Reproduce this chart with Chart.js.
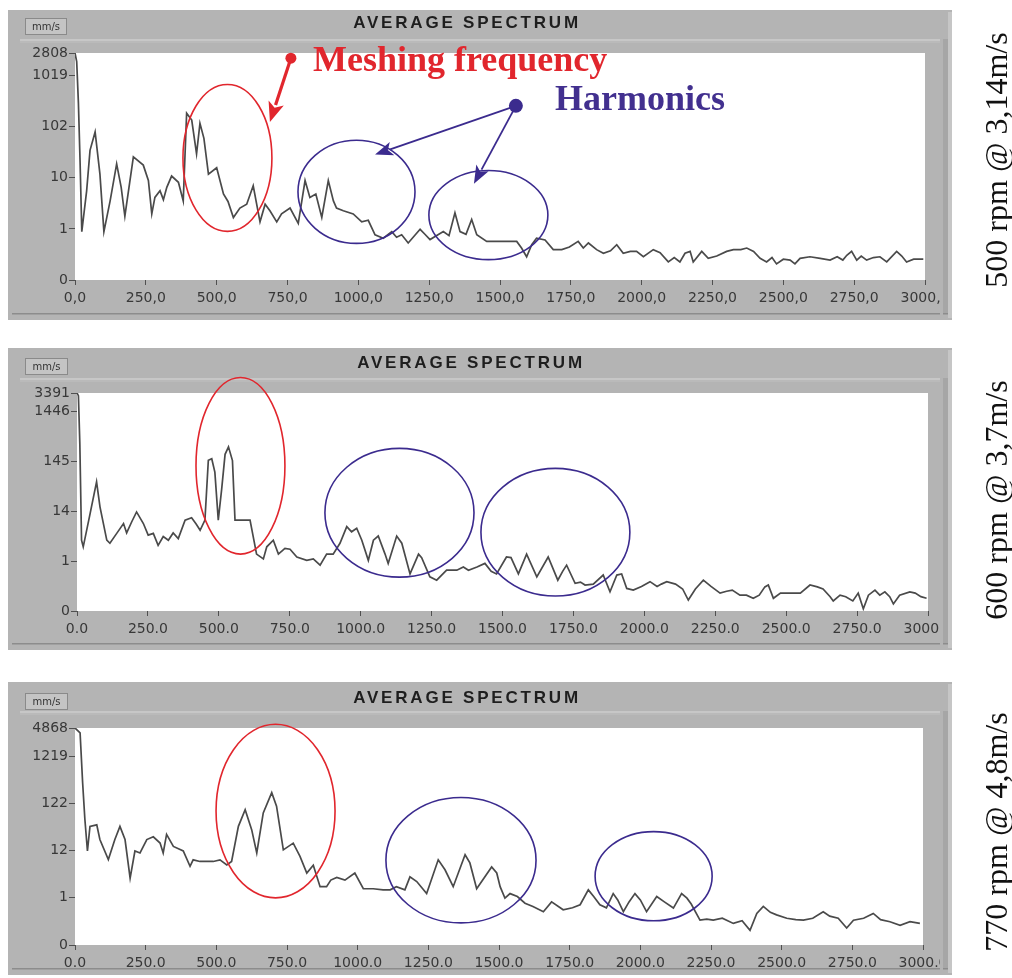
<!DOCTYPE html>
<html><head><meta charset="utf-8">
<script src="https://cdn.jsdelivr.net/npm/chart.js@4.4.1/dist/chart.umd.min.js"></script>
<style>
html,body{margin:0;padding:0;background:#fff;width:1012px;height:978px;overflow:hidden}
.wrap{position:absolute;left:0;width:1012px}
canvas{display:block}
</style></head><body>
<div class="wrap" style="top:0;height:330px"><canvas id="c1" width="1012" height="330"></canvas></div>
<div class="wrap" style="top:330px;height:330px"><canvas id="c2" width="1012" height="330"></canvas></div>
<div class="wrap" style="top:660px;height:318px"><canvas id="c3" width="1012" height="318"></canvas></div>
<script>
// ---------- DATA (frequency in Hz, amplitude in mm/s) ----------
const freq500 = [0,6,12,18,24,41,53,71,88,102,124,147,163,176,206,241,259,271,282,300,312,324,341,365,382,394,412,429,441,455,471,500,524,540,559,582,606,629,653,671,688,712,729,759,788,812,829,850,871,894,912,923,947,982,1012,1035,1059,1088,1118,1135,1153,1176,1218,1235,1253,1300,1320,1341,1359,1380,1400,1418,1453,1500,1559,1576,1594,1612,1629,1659,1688,1718,1745,1776,1794,1812,1841,1865,1890,1912,1935,1960,1982,2006,2041,2065,2094,2115,2135,2153,2171,2182,2212,2235,2265,2300,2324,2350,2371,2395,2418,2441,2460,2476,2500,2524,2541,2559,2594,2630,2665,2690,2710,2724,2741,2759,2775,2794,2818,2841,2865,2900,2918,2935,2960,2994];
const amp500 = [2808,1900,300,20,0.9,5.6,35,80,12,0.9,3.6,19,6.6,1.8,26,18,9,2,4.2,5.7,3.8,6.6,11,8.3,3.6,186,137,30,118,60,12,16,4.9,3.5,1.7,2.6,3.1,7.1,1.4,3.1,2.3,1.4,2.0,2.6,1.3,9,4.2,4.9,1.7,9,3.6,2.6,2.3,2.0,1.4,1.5,0.78,0.67,0.9,0.7,0.78,0.54,1.0,0.8,0.63,0.9,0.75,2.1,0.9,0.8,1.55,0.78,0.58,0.58,0.58,0.43,0.29,0.5,0.67,0.62,0.4,0.4,0.45,0.58,0.43,0.54,0.4,0.34,0.38,0.5,0.34,0.37,0.37,0.29,0.4,0.35,0.23,0.28,0.23,0.34,0.37,0.23,0.37,0.27,0.3,0.37,0.4,0.4,0.43,0.37,0.27,0.23,0.28,0.21,0.26,0.25,0.21,0.27,0.29,0.27,0.25,0.29,0.25,0.31,0.37,0.25,0.3,0.25,0.28,0.29,0.23,0.37,0.3,0.23,0.26,0.26];
const yTicks500 = [0.1019,1.019,10.19,101.9,1019,2808];
const yLabels500 = ['0','1','10','102','1019','2808'];

const freq600 = [0,5,10,16,22,46,69,81,105,116,140,164,175,193,210,234,251,269,286,304,322,339,357,381,404,420,434,451,463,475,486,498,510,522,534,548,557,586,610,633,657,669,692,710,733,751,775,810,833,857,880,903,927,951,968,986,1004,1027,1045,1062,1086,1097,1127,1145,1174,1204,1215,1244,1268,1303,1339,1362,1380,1410,1438,1460,1479,1514,1530,1556,1585,1621,1661,1695,1712,1726,1756,1775,1791,1820,1855,1879,1903,1920,1938,1961,1990,2020,2045,2060,2079,2110,2135,2155,2180,2208,2235,2267,2290,2310,2337,2360,2384,2405,2425,2437,2455,2480,2513,2550,2584,2610,2630,2655,2666,2690,2710,2735,2754,2772,2790,2813,2830,2848,2865,2878,2900,2936,2955,2975,2995];
const amp600 = [3391,3000,324,3.8,2.8,12.8,56,17.7,3.8,3.3,5.2,8.2,5.3,8.9,14,8.2,4.8,5.2,3.0,4.5,3.8,5.3,4.1,9.6,10.7,8,6.0,9.6,152,163,88,9.6,40,200,282,150,9.6,9.6,9.6,2.0,1.6,2.8,3.8,2.0,2.6,2.5,1.75,1.5,1.6,1.2,2.0,2.0,3.3,7.1,5.6,6.6,3.8,1.5,3.8,4.6,2.0,1.3,4.6,3.3,0.8,2.0,1.7,0.7,0.6,0.95,0.95,1.1,0.95,1.1,1.3,0.9,0.8,1.75,1.7,0.8,2.0,0.7,1.75,0.6,0.9,1.2,0.52,0.55,0.48,0.5,0.76,0.35,0.76,0.8,0.41,0.38,0.45,0.56,0.45,0.5,0.56,0.5,0.4,0.24,0.4,0.6,0.45,0.33,0.36,0.38,0.3,0.3,0.26,0.3,0.44,0.48,0.26,0.33,0.33,0.33,0.48,0.44,0.4,0.28,0.23,0.3,0.28,0.23,0.33,0.16,0.3,0.38,0.3,0.35,0.28,0.2,0.3,0.35,0.33,0.28,0.26];
const yTicks600 = [0.1446,1.446,14.46,144.6,1446,3391];
const yLabels600 = ['0','1','14','145','1446','3391'];

const freq770 = [0,18,27,35,44,53,77,88,118,141,159,177,195,212,230,254,277,301,312,324,348,383,407,418,442,489,513,537,554,578,602,625,643,666,696,713,737,772,796,820,843,867,890,905,926,955,990,1020,1055,1090,1115,1137,1167,1185,1209,1244,1285,1309,1338,1380,1397,1421,1474,1492,1504,1521,1539,1565,1592,1620,1657,1686,1727,1760,1787,1816,1835,1857,1880,1904,1920,1940,1960,1981,2000,2022,2058,2085,2117,2146,2165,2180,2211,2235,2258,2290,2329,2360,2388,2412,2435,2460,2482,2518,2550,2577,2610,2647,2670,2700,2730,2754,2790,2824,2850,2883,2919,2954,2989];
const amp770 = [4868,3855,335,56,12,40,43,21,7.9,21,40,21,3.2,12,10.9,21,24,17.7,10.9,27,15,12,5.7,7.8,7.2,7.2,7.8,6.1,7.2,40,90,34,10.9,77,207,107,12.7,17.6,9.2,4.1,6.0,2.1,2.1,2.9,3.3,2.9,4.1,1.9,1.9,1.8,1.8,2.1,1.8,3.4,2.7,1.5,7.8,4.8,2.1,10,6.7,1.9,5.5,4.1,2.1,1.2,1.5,1.3,0.94,0.8,0.62,1.0,0.68,0.75,0.87,1.8,1.3,0.87,0.75,1.5,1.1,0.62,1.0,1.5,1.1,0.62,1.3,1.0,0.74,1.5,1.2,0.9,0.41,0.43,0.41,0.45,0.35,0.4,0.25,0.57,0.8,0.6,0.53,0.45,0.42,0.41,0.45,0.62,0.5,0.45,0.28,0.41,0.45,0.57,0.42,0.38,0.32,0.38,0.35];
const yTicks770 = [0.1219,1.219,12.19,121.9,1219,4868];
const yLabels770 = ['0','1','12','122','1219','4868'];

const xTickValues = [0,250,500,750,1000,1250,1500,1750,2000,2250,2500,2750,3000];

// ---------- DECORATION ----------
const RED = '#e1262d', PURPLE = '#3b2b8e';

function makePanel(id, o) {
  const deco = {
    id: 'deco_' + id,
    beforeDraw(chart) {
      const ctx = chart.ctx, ca = chart.chartArea, f = o.frame;
      ctx.save();
      ctx.fillStyle = '#ffffff'; ctx.fillRect(0, 0, chart.width, chart.height);
      ctx.fillStyle = '#b4b4b4'; ctx.fillRect(f.x, f.y, f.w, f.h);
      ctx.fillStyle = '#c7c7c7'; ctx.fillRect(f.x + 12, o.lineY, f.w - 20, 2);
      ctx.fillStyle = '#bababa'; ctx.fillRect(f.x + 12, o.lineY + 2, f.w - 20, 2);
      ctx.fillStyle = '#8c8c8c'; ctx.fillRect(f.x + 4, f.y + f.h - 7, f.w - 8, 1.5);
      ctx.fillStyle = '#ffffff'; ctx.fillRect(ca.left, ca.top, ca.right - ca.left, ca.bottom - ca.top);
      // title
      ctx.fillStyle = '#1e1e1e';
      ctx.font = 'bold 17px "Liberation Sans", Arial, sans-serif';
      try { ctx.letterSpacing = '2.8px'; } catch (e) {}
      ctx.textAlign = 'center'; ctx.textBaseline = 'middle';
      ctx.fillText('AVERAGE SPECTRUM', o.titleX, o.titleY);
      try { ctx.letterSpacing = '0px'; } catch (e) {}
      // unit box
      const b = o.unitBox;
      ctx.fillStyle = '#c4c4c4'; ctx.fillRect(b.x, b.y, b.w, b.h);
      ctx.strokeStyle = '#8a8a8a'; ctx.lineWidth = 1;
      ctx.strokeRect(b.x + 0.5, b.y + 0.5, b.w - 1, b.h - 1);
      ctx.fillStyle = '#333'; ctx.font = '10px "DejaVu Sans", sans-serif';
      ctx.textAlign = 'center'; ctx.textBaseline = 'middle';
      ctx.fillText('mm/s', b.x + b.w / 2, b.y + b.h / 2 + 1);
      ctx.restore();
    },
    afterDraw(chart) {
      const ctx = chart.ctx, f = o.frame;
      const X = v => chart.scales.x.getPixelForValue(v);
      const Y = v => chart.scales.y.getPixelForValue(v);
      ctx.save();
      // right inner strip of the frame
      ctx.fillStyle = '#b4b4b4'; ctx.fillRect(f.x + f.w - 12, f.y + 2, 3, f.h - 4);
      ctx.fillStyle = '#a6a6a6'; ctx.fillRect(f.x + f.w - 9, o.lineY, 5, f.h - (o.lineY - f.y) - 7);
      ctx.fillStyle = '#c6c6c6'; ctx.fillRect(f.x + f.w - 4, f.y + 2, 4, f.h - 4);
      // ellipses
      for (const e of o.ellipses) {
        const x0 = X(e.f[0]), x1 = X(e.f[1]), y0 = Y(e.v[0]), y1 = Y(e.v[1]);
        ctx.beginPath();
        ctx.ellipse((x0 + x1) / 2, (y0 + y1) / 2, Math.abs(x1 - x0) / 2, Math.abs(y1 - y0) / 2, 0, 0, Math.PI * 2);
        ctx.strokeStyle = e.color; ctx.lineWidth = 1.6; ctx.stroke();
      }
      // arrows
      for (const a of (o.arrows || [])) {
        const x0 = X(a.from[0]), y0 = Y(a.from[1]), x1 = X(a.to[0]), y1 = Y(a.to[1]);
        const dx = x1 - x0, dy = y1 - y0, L = Math.hypot(dx, dy), ux = dx / L, uy = dy / L;
        const bx = x1 - ux * a.head, by = y1 - uy * a.head;
        ctx.strokeStyle = a.color; ctx.fillStyle = a.color; ctx.lineWidth = a.width;
        ctx.beginPath(); ctx.moveTo(x0, y0); ctx.lineTo(bx + ux * 2, by + uy * 2); ctx.stroke();
        ctx.beginPath(); ctx.moveTo(x1, y1);
        ctx.lineTo(bx - uy * a.half, by + ux * a.half);
        ctx.lineTo(bx + ux * a.head * 0.25, by + uy * a.head * 0.25);
        ctx.lineTo(bx + uy * a.half, by - ux * a.half);
        ctx.closePath(); ctx.fill();
      }
      for (const d of (o.dots || [])) {
        ctx.fillStyle = d.color; ctx.beginPath();
        ctx.arc(X(d.at[0]), Y(d.at[1]), d.r, 0, Math.PI * 2); ctx.fill();
      }
      for (const t of (o.texts || [])) {
        ctx.fillStyle = t.color; ctx.font = 'bold 36px "Liberation Serif", "Times New Roman", serif';
        ctx.textAlign = 'left'; ctx.textBaseline = 'alphabetic';
        ctx.fillText(t.text, X(t.at[0]), Y(t.at[1]));
      }
      // side label
      ctx.translate(o.side.x, o.side.y); ctx.rotate(-Math.PI / 2);
      ctx.fillStyle = '#111'; ctx.font = '32px "Liberation Serif", "Times New Roman", serif';
      ctx.textAlign = 'center'; ctx.textBaseline = 'alphabetic';
      ctx.fillText(o.side.text, 0, 0);
      ctx.restore();
    }
  };

  return new Chart(document.getElementById(id), {
    type: 'line',
    data: { datasets: [{
      data: o.freq.map((fq, i) => ({ x: fq, y: o.amp[i] })),
      borderColor: '#4a4a4a', borderWidth: 1.7, pointRadius: 0, tension: 0, fill: false
    }]},
    options: {
      responsive: false, animation: false, events: [],
      layout: { padding: o.padding },
      plugins: { legend: { display: false }, tooltip: { enabled: false } },
      scales: {
        x: {
          type: 'linear', min: 0, max: 3000,
          afterBuildTicks: s => { s.ticks = xTickValues.map(v => ({ value: v })); },
          afterFit: s => { s.height = o.xHeight; },
          grid: { display: true, drawOnChartArea: false, drawTicks: true, tickLength: 5, color: '#505050' },
          border: { display: false },
          ticks: { autoSkip: false, maxRotation: 0, padding: 5, color: '#383838',
            font: { family: '"DejaVu Sans", sans-serif', size: 14 },
            callback: v => v.toFixed(1).replace('.', o.dec) }
        },
        y: {
          type: 'logarithmic', min: o.yTicks[0], max: o.yTicks[o.yTicks.length - 1],
          afterBuildTicks: s => { s.ticks = o.yTicks.map(v => ({ value: v })); },
          afterFit: s => { s.width = o.yWidth; },
          grid: { display: true, drawOnChartArea: false, drawTicks: true, tickLength: 6, color: '#505050' },
          border: { display: false },
          ticks: { autoSkip: false, padding: 1, color: '#383838',
            font: { family: '"DejaVu Sans", sans-serif', size: 14 },
            callback: (v, i) => o.yLabels[i] }
        }
      }
    },
    plugins: [deco]
  });
}

makePanel('c1', {
  freq: freq500, amp: amp500, yTicks: yTicks500, yLabels: yLabels500, dec: ',',
  padding: { left: 0, right: 87, top: 53, bottom: 0 }, yWidth: 75, xHeight: 50,
  frame: { x: 8, y: 10, w: 944, h: 310 }, lineY: 39, titleX: 467, titleY: 23,
  unitBox: { x: 25, y: 18, w: 42, h: 17 },
  side: { x: 1007, y: 160, text: '500 rpm @ 3,14m/s' },
  ellipses: [
    { f: [381, 695], v: [680, 0.91], color: RED },
    { f: [787, 1200], v: [55.3, 0.53], color: PURPLE },
    { f: [1249, 1669], v: [14.1, 0.255], color: PURPLE }
  ],
  arrows: [
    { from: [762, 2223], to: [688, 125.6], color: RED, width: 3.2, head: 20, half: 8 },
    { from: [1556, 260], to: [1059, 29], color: PURPLE, width: 1.8, head: 18, half: 7 },
    { from: [1556, 260], to: [1408, 7.8], color: PURPLE, width: 1.8, head: 18, half: 7 }
  ],
  dots: [ { at: [762, 2223], r: 5.5, color: RED }, { at: [1556, 260], r: 7, color: PURPLE } ],
  texts: [ { text: 'Meshing frequency', at: [840, 1228], color: RED },
           { text: 'Harmonics', at: [1694, 217], color: '#42308f' } ]
});

makePanel('c2', {
  freq: freq600, amp: amp600, yTicks: yTicks600, yLabels: yLabels600, dec: '.',
  padding: { left: 0, right: 84, top: 63, bottom: 0 }, yWidth: 77, xHeight: 49,
  frame: { x: 8, y: 18, w: 944, h: 302 }, lineY: 48, titleX: 471, titleY: 33,
  unitBox: { x: 25, y: 28, w: 43, h: 17 },
  side: { x: 1007, y: 170, text: '600 rpm @ 3,7m/s' },
  ellipses: [
    { f: [419.5, 733], v: [6927, 2.0], color: RED },
    { f: [874, 1399.5], v: [263, 0.69], color: PURPLE },
    { f: [1424, 1949], v: [104.7, 0.288], color: PURPLE }
  ]
});

makePanel('c3', {
  freq: freq770, amp: amp770, yTicks: yTicks770, yLabels: yLabels770, dec: '.',
  padding: { left: 0, right: 89, top: 68, bottom: 0 }, yWidth: 75, xHeight: 33,
  frame: { x: 8, y: 22, w: 944, h: 293 }, lineY: 51, titleX: 467, titleY: 38,
  unitBox: { x: 25, y: 33, w: 43, h: 17 },
  side: { x: 1007, y: 172, text: '770 rpm @ 4,8m/s' },
  ellipses: [
    { f: [499, 920], v: [5835, 1.219], color: RED },
    { f: [1100, 1631], v: [164, 0.359], color: PURPLE },
    { f: [1840, 2254], v: [30.9, 0.397], color: PURPLE }
  ]
});
</script>
</body></html>
